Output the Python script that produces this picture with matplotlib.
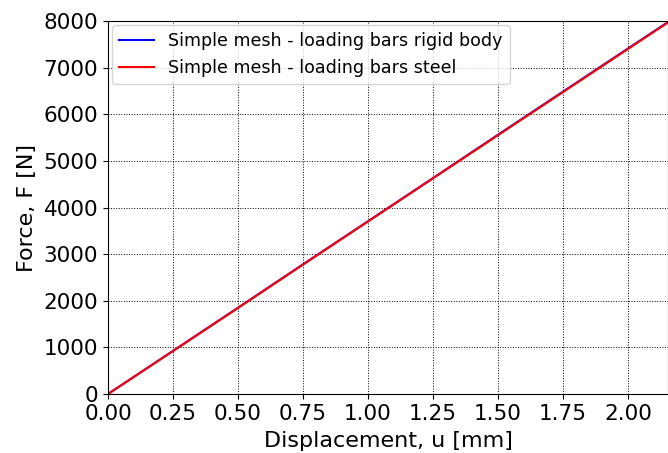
import matplotlib
matplotlib.use("Agg")
import matplotlib.pyplot as plt

# displacement [mm] and force [N]
u_rigid = [0.0, 0.25, 0.5, 0.75, 1.0, 1.25, 1.5, 1.75, 2.0, 2.16]
f_rigid = [0, 925, 1850, 2780, 3705, 4630, 5560, 6485, 7410, 8000]
u_steel = [0.0, 0.25, 0.5, 0.75, 1.0, 1.25, 1.5, 1.75, 2.0, 2.16]
f_steel = [0, 920, 1845, 2775, 3700, 4625, 5550, 6475, 7400, 7990]

fig = plt.figure(figsize=(6.68, 4.53), dpi=100)
ax = fig.add_axes([108 / 668, 1 - 394 / 453, 1 - 108 / 668, (394 - 21) / 453])

ax.plot(u_rigid, f_rigid, color="blue", lw=1.5, label="Simple mesh - loading bars rigid body")
ax.plot(u_steel, f_steel, color="red", lw=1.5, label="Simple mesh - loading bars steel")

ax.set_xlim(0, 2.154)
ax.set_ylim(0, 8000)
ax.set_xticks([0, 0.25, 0.5, 0.75, 1.0, 1.25, 1.5, 1.75, 2.0])
ax.set_xticklabels(["0.00", "0.25", "0.50", "0.75", "1.00", "1.25", "1.50", "1.75", "2.00"])
ax.set_yticks(range(0, 8001, 1000))
ax.tick_params(labelsize=15.5)
ax.grid(True, color="black", linestyle=":", linewidth=0.7)
ax.set_xlabel("Displacement, u [mm]", fontsize=16, labelpad=5)
ax.set_ylabel("Force, F [N]", fontsize=16, labelpad=5)
ax.legend(loc="upper left", fontsize=12.6, borderaxespad=0.25)

fig.savefig("out.png", dpi=100)
